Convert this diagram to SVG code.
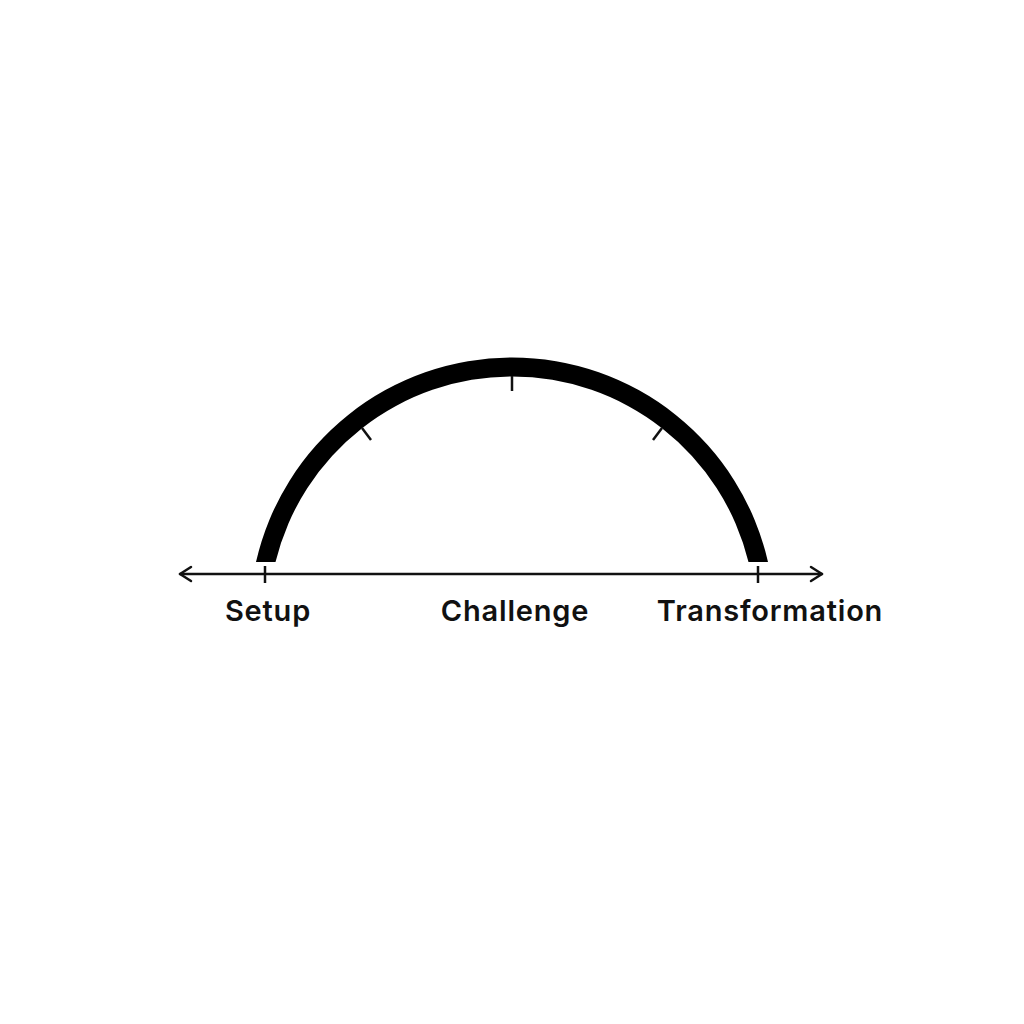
<svg xmlns="http://www.w3.org/2000/svg" width="1024" height="1024" viewBox="0 0 1024 1024">
<style>
.lbl{font-family:Inter,"Liberation Sans",sans-serif;font-weight:600;font-size:29px;letter-spacing:0.8px;fill:#111;text-anchor:middle}
.tk{stroke:#111;stroke-width:2.5;fill:none}
.ax{stroke:#111;stroke-width:2.5;fill:none;stroke-linecap:round;stroke-linejoin:round}
</style>
<rect width="1024" height="1024" fill="#fff"/>
<g id="arc">
<path d="M 256 562 A 262.5 262.5 0 0 1 768 562 L 748.5 562 A 243.5 243.5 0 0 0 275.5 562 Z" fill="#000"/>
<line class="tk" x1="512" y1="376" x2="512" y2="391"/>
<line class="tk" x1="362" y1="428" x2="371" y2="440"/>
<line class="tk" x1="662" y1="428" x2="653" y2="440"/>
</g>
<g id="connectors">
<line class="ax" x1="180" y1="574" x2="822" y2="574"/>
<polyline class="ax" points="191,567 180,574 191,581"/>
<polyline class="ax" points="811,567 822,574 811,581"/>
<line class="tk" x1="265" y1="566" x2="265" y2="583"/>
<line class="tk" x1="758" y1="566" x2="758" y2="583"/>
</g>
<g id="setup"><text class="lbl" x="268" y="621">Setup</text></g>
<g id="challenge"><text class="lbl" x="515" y="621">Challenge</text></g>
<g id="transformation"><text class="lbl" x="770" y="621">Transformation</text></g>
</svg>
